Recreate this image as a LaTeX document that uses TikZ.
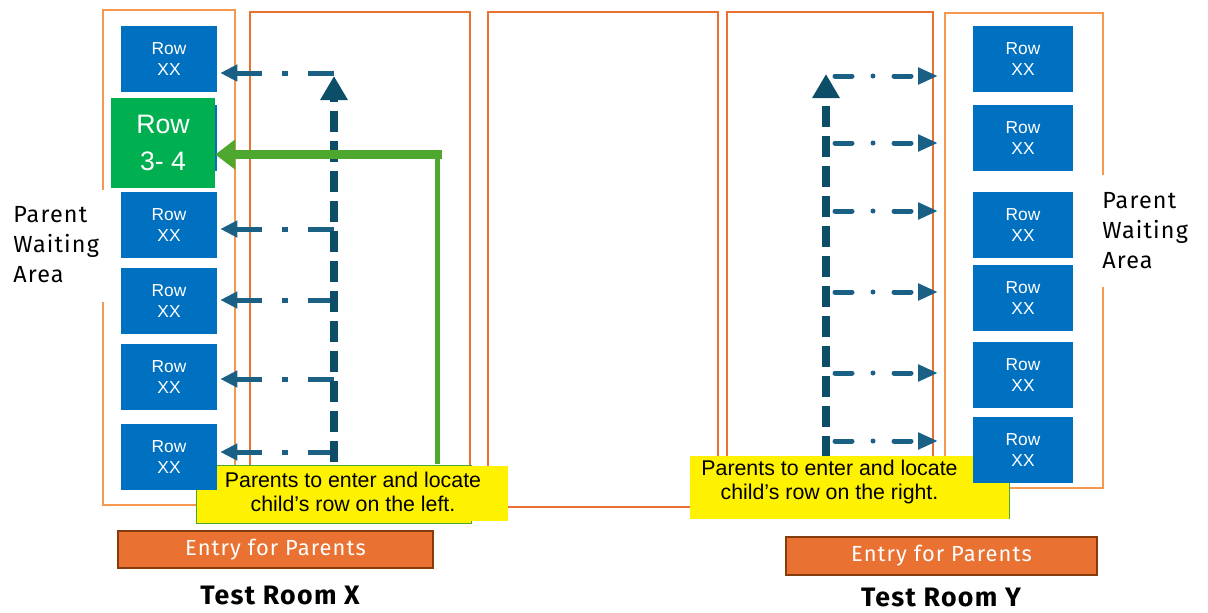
\documentclass[tikz,border=0pt]{standalone}
\usepackage{fontspec}
\setmainfont{Liberation Sans}
\newfontfamily\labfont[LetterSpace=5]{Fira Sans}
\usetikzlibrary{arrows.meta}
\definecolor{waitorange}{RGB}{247,152,80}
\definecolor{roomorange}{RGB}{233,113,50}
\definecolor{rowblue}{RGB}{0,112,192}
\definecolor{rowgreen}{RGB}{0,176,80}
\definecolor{arrowgreen}{RGB}{78,167,46}
\definecolor{darkteal}{RGB}{12,77,104}
\definecolor{midteal}{RGB}{26,96,133}
\definecolor{entryfill}{RGB}{233,113,50}
\definecolor{entryedge}{RGB}{132,60,12}
\begin{document}
\begin{tikzpicture}[x=0.75pt,y=-0.75pt,
  waitline/.style={draw=waitorange,line width=1.6pt},
  roomline/.style={draw=roomorange,line width=1.1pt},
  rowbox/.style={fill=rowblue,text=white,inner sep=0pt,align=center,
    minimum height=49.5pt,font=\fontsize{13}{15.75}\selectfont},
  rowL/.style={rowbox,minimum width=72pt},
  rowR/.style={rowbox,minimum width=75pt},
  greenbox/.style={fill=rowgreen,text=white,inner sep=0pt,align=center,
    minimum width=78pt,minimum height=67.5pt,font=\fontsize{20}{27.75}\selectfont},
  vtrunk/.style={draw=darkteal,line width=6.5pt,dash pattern=on 15.75pt off 6.75pt,
    -{Triangle[length=18pt,width=19.5pt]}},
  larrow/.style={draw=midteal,line width=3.75pt,
    dash pattern=on 19.5pt off 15pt on 4.5pt off 15pt,
    -{Triangle[length=12.75pt,width=12pt]},shorten >=2.25pt},
  rarrow/.style={draw=midteal,line width=3.75pt,line cap=round,
    dash pattern=on 12.75pt off 15.75pt on 0pt off 15.75pt,
    -{Triangle[length=15pt,width=12pt]}},
  greenv/.style={draw=arrowgreen,line width=3.75pt},
  greenh/.style={draw=arrowgreen,line width=6.75pt,-{Triangle[length=15pt,width=21.75pt]}},
  ybox/.style={fill=yellow,inner sep=0pt},
  ytext/.style={align=center,font=\fontsize{16}{18.5}\selectfont,inner sep=0pt},
  entry/.style={fill=entryfill,draw=entryedge,line width=1.2pt,text=white,inner sep=0pt,
    font=\labfont\fontsize{16.4}{19}\selectfont},
  waitlabel/.style={anchor=west,align=left,inner sep=0pt,
    font=\labfont\fontsize{17.5}{22.5}\selectfont},
  roomlabel/.style={inner sep=0pt,font=\labfont\bfseries\fontsize{20}{24}\selectfont}
]
\useasboundingbox (0,0) rectangle (1208,612);

% waiting areas
\draw[waitline] (103,190) -- (103,10) -- (235,10) -- (235,505) -- (103,505) -- (103,302);
\draw[waitline] (1103,175) -- (1103,13) -- (945,13) -- (945,488) -- (1103,488) -- (1103,287);

% rooms
\draw[roomline] (250,12) rectangle (470,507);
\draw[roomline] (488,12) rectangle (718,507);
\draw[roomline] (727,12) rectangle (933,507);

% row boxes (positions)
\node[rowL] (l1) at (169,59) {Row\\XX};
\node[rowL] (l2) at (169,138) {};
\node[rowR] (r1) at (1023,59) {Row\\XX};
\node[rowR] (r2) at (1023,138) {Row\\XX};
\node[rowR] (r3) at (1023,225) {Row\\XX};
\node[rowR] (r4) at (1023,298) {Row\\XX};
\node[rowR] (r5) at (1023,375) {Row\\XX};

% left arrows
\coordinate (lbot) at (334,462);
\coordinate (ltop) at (334,76);
\coordinate (a1) at (334,73);
\coordinate (a3) at (334,229);
\coordinate (a4) at (334,300);
\coordinate (a5) at (334,379);
\coordinate (a6) at (334,452);
\draw[larrow] (a1) -- (a1 -| l1.east);
\draw[larrow] (a3) -- (a3 -| l1.east);
\draw[larrow] (a4) -- (a4 -| l1.east);
\draw[larrow] (a5) -- (a5 -| l1.east);
\draw[larrow] (a6) -- (a6 -| l1.east);
\draw[vtrunk] (lbot) -- (ltop);

% right arrows
\coordinate (rbot) at (826,457);
\coordinate (rtop) at (826,74);
\coordinate (rtip) at (938,0);
\coordinate (b1) at (835,76);
\coordinate (b2) at (835,143);
\coordinate (b3) at (835,211);
\coordinate (b4) at (835,292);
\coordinate (b5) at (835,373);
\coordinate (b6) at (835,441);
\foreach \b in {b1,b2,b3,b4,b5,b6}{
  \draw[rarrow] (\b) -- (\b -| rtip);
}
\draw[vtrunk] (rbot) -- (rtop);

% green arrow
\node[greenbox] (g) at (163,143) {Row\\3- 4};
\coordinate (g0) at (437.5,464);
\coordinate (g1) at (442,154.5);
\draw[greenv] (g0) -- (g0 |- g1);
\draw[greenh] (g1) -- (g1 -| g.east);

% yellow notes
\draw[fill=yellow,draw=arrowgreen,line width=0.6pt] (196,465) rectangle (471,523);
\node[ybox,minimum width=233.25pt,minimum height=41.25pt] (ynoteL) at (352.5,493.5) {};
\node[ytext] (ytL) at (353,492) {Parents to enter and locate\\child’s row on the left.};
\node[ybox,minimum width=239.25pt,minimum height=47.25pt] (ynoteR) at (849.5,487.5) {};
\draw[arrowgreen,line width=0.6pt] (ynoteR.north east) -- (ynoteR.south east);
\node[ytext] (ytR) at (829.5,482) {Parents to enter and locate\\child’s row on the right.};

% remaining row boxes (on top of notes)
\node[rowL] (l3) at (169,225) {Row\\XX};
\node[rowL] (l4) at (169,301) {Row\\XX};
\node[rowL] (l5) at (169,377) {Row\\XX};
\node[rowL] (l6) at (169,457) {Row\\XX};
\node[rowR] (r6) at (1023,450) {Row\\XX};
\node[greenbox] at (g) {Row\\3- 4};

% labels
\node[waitlabel] (pwL) at (13,245) {Parent\\Waiting\\Area};
\node[waitlabel] (pwR) at (1102,231) {Parent\\Waiting\\Area};
\node[entry,minimum width=236.25pt,minimum height=27.75pt] (entL) at (275.5,549.5) {Entry for Parents};
\node[entry,minimum width=233.25pt,minimum height=28.5pt] (entR) at (941.5,556) {Entry for Parents};
\node[roomlabel] (tX) at (280,595) {Test Room X};
\node[roomlabel] (tY) at (941,597) {Test Room Y};
\end{tikzpicture}
\end{document}
